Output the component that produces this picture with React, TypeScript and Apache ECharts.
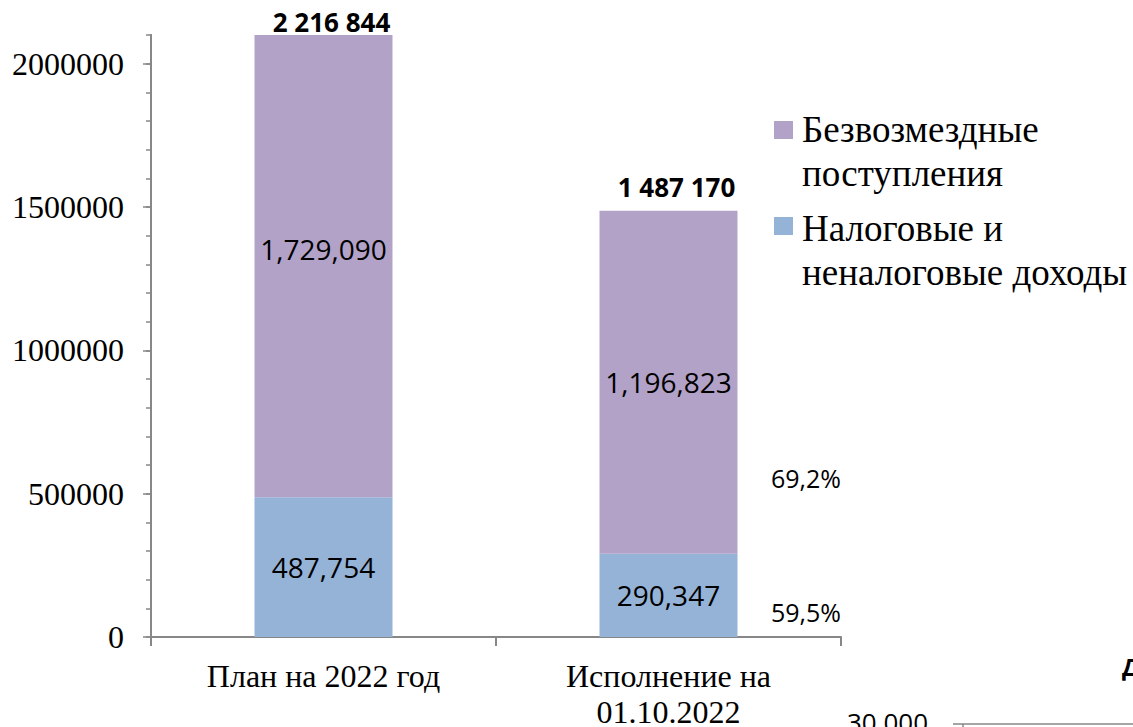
import React, { useEffect, useRef } from 'react';
import * as echarts from 'echarts';

// ---------- data ----------
const categories = ['План на 2022 год', 'Исполнение на\n01.10.2022'];
const taxIncome = [487754, 290347];
const grants = [1729090, 1196823];
const seriesNames = ['Безвозмездные\nпоступления', 'Налоговые и\nненалоговые доходы'];
const yTickValues = [0, 500000, 1000000, 1500000, 2000000];
const Y_MAX = 2100000;
const fragmentTick = '30,000';
const fragmentTitle = 'Д';

// ---------- styles ----------
const PURPLE = '#B3A2C7';
const BLUE = '#95B3D7';
const AXIS = '#878787';
const SERIF = 'Liberation Serif';
const SANS = 'Open Sans';
const totalLift = [13, 24];
const totalShiftX = 8;

const fmtComma = (v: number) => v.toLocaleString('en-US');
const fmtSpace = (v: number) => v.toLocaleString('en-US').replace(/,/g, ' ');
const fmtPct = (a: number, b: number) => ((a / b) * 100).toFixed(1).replace('.', ',') + '%';

export default function App() {
  const ref = useRef<HTMLDivElement>(null);

  useEffect(() => {
    document.body.style.margin = '0';
    const chart = echarts.init(ref.current!, null, { renderer: 'svg' });

    const insideLabel = {
      show: true,
      position: 'inside',
      formatter: (p: any) => fmtComma(p.value),
      fontFamily: SANS,
      fontSize: 28,
      color: '#000',
    };

    chart.setOption({
      animation: false,
      grid: {
        left: 151,
        right: 292,
        top: 35,
        bottom: 90,
        containLabel: false,
        outerBoundsMode: 'none',
      },
      xAxis: {
        type: 'category',
        data: categories,
        axisLine: { show: true, lineStyle: { color: AXIS, width: 2 } },
        axisTick: { show: true, length: 9, lineStyle: { color: AXIS, width: 2 } },
        axisLabel: {
          interval: 0,
          margin: 21,
          fontFamily: SERIF,
          fontSize: 32,
          lineHeight: 36,
          color: '#000',
        },
        splitLine: { show: false },
      },
      yAxis: [
        {
          type: 'value',
          min: 0,
          max: Y_MAX,
          interval: 100000,
          position: 'left',
          axisLine: { show: true, lineStyle: { color: AXIS, width: 2 } },
          axisTick: { show: true, length: 5, lineStyle: { color: AXIS, width: 1.5 } },
          axisLabel: { show: false },
          splitLine: { show: false },
        },
        {
          type: 'value',
          min: 0,
          max: Y_MAX,
          interval: 500000,
          position: 'left',
          offset: 0,
          axisLine: { show: true, lineStyle: { color: AXIS, width: 2 } },
          axisTick: {
            show: true,
            length: 8,
            customValues: yTickValues,
            lineStyle: { color: AXIS, width: 1.5 },
          },
          axisLabel: {
            show: true,
            customValues: yTickValues,
            margin: 27,
            fontFamily: SERIF,
            fontSize: 32,
            color: '#000',
            formatter: (v: number) => String(v),
          },
          splitLine: { show: false },
        },
      ],
      series: [
        {
          name: seriesNames[1],
          type: 'bar',
          stack: 'total',
          yAxisIndex: 0,
          barWidth: '40%',
          itemStyle: { color: BLUE },
          label: insideLabel,
          data: taxIncome,
        },
        {
          name: seriesNames[0],
          type: 'bar',
          stack: 'total',
          yAxisIndex: 0,
          barWidth: '40%',
          itemStyle: { color: PURPLE },
          label: insideLabel,
          data: grants,
        },
      ],
    });

    // second pass: positions derived from the chart's own scales
    const py = (v: number) => chart.convertToPixel({ yAxisIndex: 0 }, v) as number;
    const px = (i: number) => chart.convertToPixel({ xAxisIndex: 0 }, i) as number;
    const gridTop = py(Y_MAX);

    const grantsData = grants.map((v, i) => {
      const bottom = py(taxIncome[i]);
      const topRaw = py(taxIncome[i] + v);
      const topClip = Math.max(topRaw, gridTop);
      const dy = (bottom + topRaw) / 2 - (bottom + topClip) / 2;
      return { value: v, label: { offset: [0, dy] } };
    });

    const totals = categories.map((_, i) => taxIncome[i] + grants[i]);

    const graphic: any[] = [];
    totals.forEach((t, i) => {
      const top = Math.max(py(t), gridTop);
      graphic.push({
        type: 'text',
        x: px(i) + totalShiftX,
        y: top - totalLift[i],
        style: {
          text: fmtSpace(t),
          fontFamily: SANS,
          fontWeight: 'bold',
          fontSize: 26,
          fill: '#000',
          align: 'center',
          verticalAlign: 'middle',
        },
      });
    });

    // execution percentages
    graphic.push({
      type: 'text',
      x: 806,
      y: 478,
      style: {
        text: fmtPct(grants[1], grants[0]),
        fontFamily: SANS,
        fontSize: 25,
        fill: '#000',
        align: 'center',
        verticalAlign: 'middle',
      },
    });
    graphic.push({
      type: 'text',
      x: 806,
      y: 612,
      style: {
        text: fmtPct(taxIncome[1], taxIncome[0]),
        fontFamily: SANS,
        fontSize: 25,
        fill: '#000',
        align: 'center',
        verticalAlign: 'middle',
      },
    });

    // legend
    const legendRows = [
      { name: seriesNames[0], color: PURPLE, sqY: 121, textY: 107 },
      { name: seriesNames[1], color: BLUE, sqY: 217, textY: 206 },
    ];
    legendRows.forEach((r) => {
      graphic.push({
        type: 'rect',
        shape: { x: 774, y: r.sqY, width: 19, height: 18 },
        style: { fill: r.color },
      });
      graphic.push({
        type: 'text',
        x: 802,
        y: r.textY,
        style: {
          text: r.name,
          fontFamily: SERIF,
          fontSize: 37,
          lineHeight: 44,
          fill: '#000',
          align: 'left',
          verticalAlign: 'top',
        },
      });
    });

    // fragment of the neighbouring chart (bottom-right corner)
    graphic.push({
      type: 'text',
      x: 847,
      y: 721.5,
      style: {
        text: fragmentTick,
        fontFamily: SANS,
        fontSize: 26,
        fill: '#000',
        align: 'left',
        verticalAlign: 'middle',
      },
    });
    graphic.push({
      type: 'line',
      shape: { x1: 953, y1: 724, x2: 1133, y2: 724 },
      style: { stroke: AXIS, lineWidth: 1.5 },
    });
    graphic.push({
      type: 'line',
      shape: { x1: 963, y1: 724, x2: 963, y2: 727 },
      style: { stroke: AXIS, lineWidth: 1.5 },
    });
    graphic.push({
      type: 'text',
      x: 1122,
      y: 666,
      style: {
        text: fragmentTitle,
        fontFamily: SANS,
        fontWeight: 'bold',
        fontSize: 24,
        fill: '#000',
        align: 'left',
        verticalAlign: 'middle',
      },
    });

    chart.setOption({
      series: [{}, { data: grantsData }],
      graphic,
    });

    return () => chart.dispose();
  }, []);

  return <div ref={ref} style={{ width: 1133, height: 727 }} />;
}
